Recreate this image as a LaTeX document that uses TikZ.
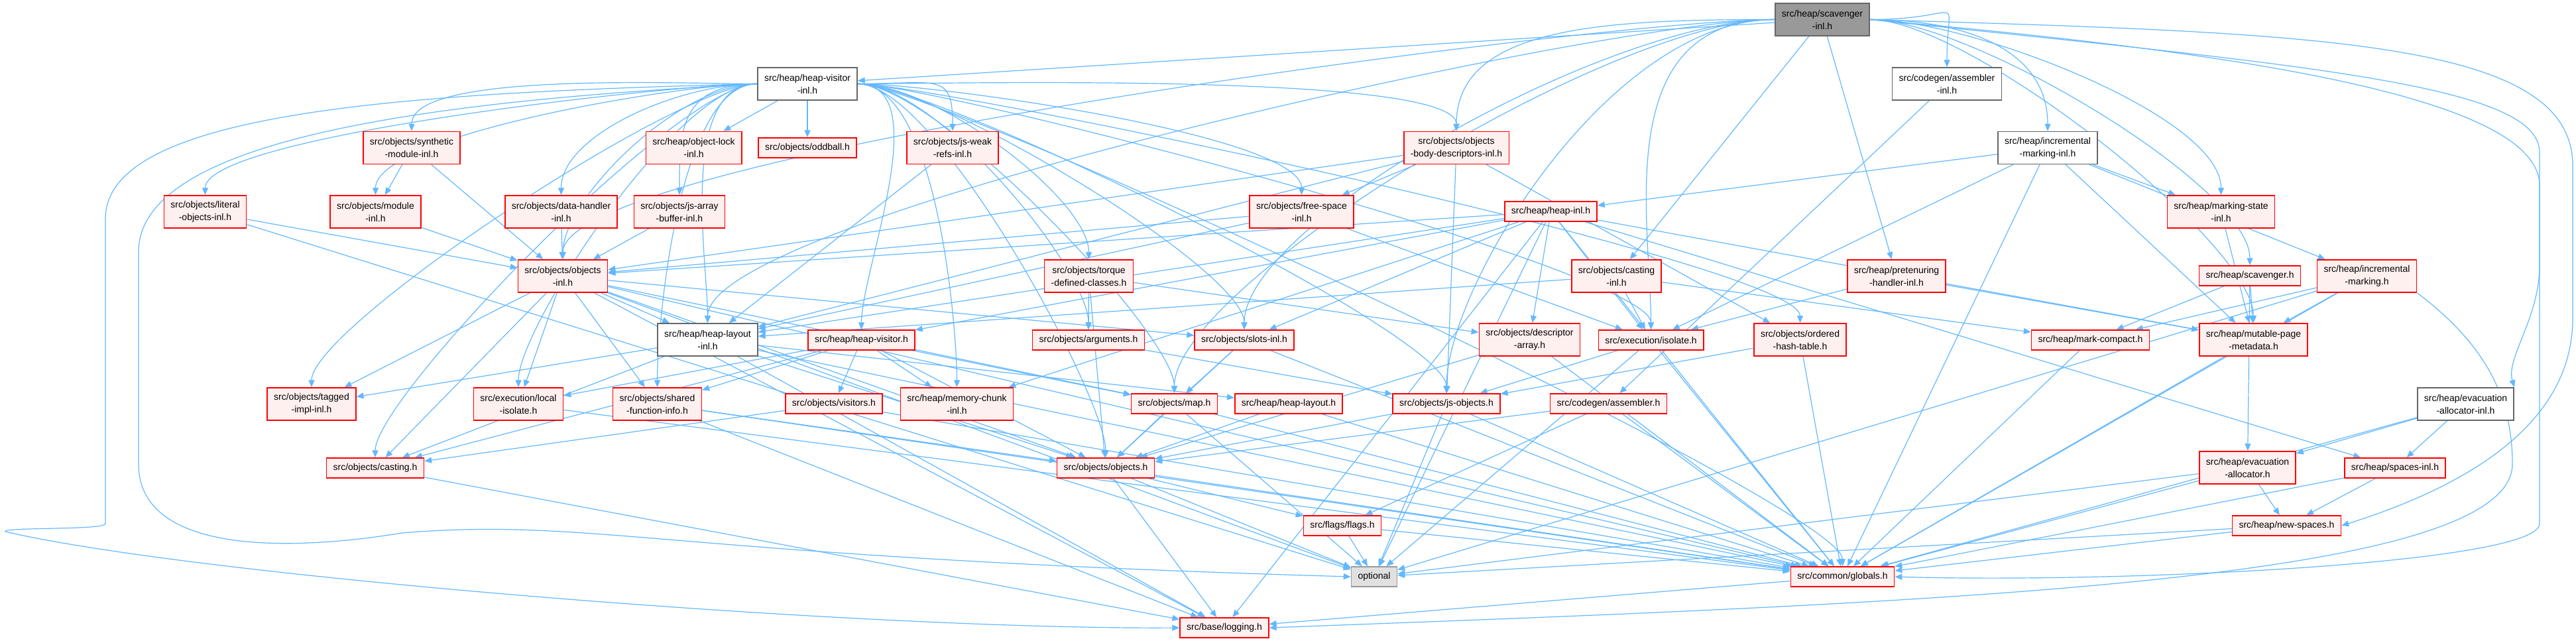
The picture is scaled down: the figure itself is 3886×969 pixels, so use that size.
\documentclass[tikz,border=0pt]{standalone}
\usepackage{fontspec}
\setmainfont{Liberation Sans}
\usetikzlibrary{arrows.meta}
\definecolor{edgeblue}{HTML}{63B8FF}
\definecolor{hdrred}{HTML}{FF0000}
\definecolor{hdrfill}{HTML}{FFF0F0}
\definecolor{plainline}{HTML}{666666}
\definecolor{rootfill}{HTML}{999999}
\definecolor{sysfill}{HTML}{E0E0E0}
\definecolor{sysline}{HTML}{999999}
\pgfdeclarelayer{wires}
\pgfsetlayers{wires,main}

\begin{document}
\begin{tikzpicture}[x=1pt, y=-1pt,
  font=\fontsize{14}{19}\selectfont,
  hdr/.style={draw=hdrred, fill=hdrfill, line width=1.5pt, align=center,
              inner xsep=10pt, inner ysep=2pt, minimum height=30pt},
  two/.style={minimum height=49pt},
  plainhdr/.style={hdr, draw=plainline, fill=white},
  roothdr/.style={hdr, draw=plainline, fill=rootfill},
  syshdr/.style={hdr, draw=sysline, fill=sysfill},
  inc/.style={-{Triangle[length=11pt, width=9pt]}, color=edgeblue, line width=1.2pt}
]
\useasboundingbox (0,0) rectangle (3886,969);

% top
\node[roothdr, two] (scavinl) at (2749,29.5) {src/heap/scavenger\\-inl.h};
\node[plainhdr, two] (hvinl) at (1218,126.5) {src/heap/heap-visitor\\-inl.h};
\node[plainhdr, two] (asminl) at (2937,126.5) {src/codegen/assembler\\-inl.h};

% includes of heap-visitor-inl.h
\node[hdr, two] (synth) at (621,223) {src/objects/synthetic\\-module-inl.h};
\node[hdr, two] (objlock) at (1046.5,223) {src/heap/object-lock\\-inl.h};
\node[hdr] (oddball) at (1218,223) {src/objects/oddball.h};
\node[hdr, two] (jsweak) at (1437,223) {src/objects/js-weak\\-refs-inl.h};
\node[hdr, two] (bodydesc) at (2197,223) {src/objects/objects\\-body-descriptors-inl.h};
\node[plainhdr, two] (iminl) at (3089,223) {src/heap/incremental\\-marking-inl.h};

\node[hdr, two] (literal) at (309.5,319.5) {src/objects/literal\\-objects-inl.h};
\node[hdr, two] (module) at (566.5,319.5) {src/objects/module\\-inl.h};
\node[hdr, two] (datah) at (846.5,319.5) {src/objects/data-handler\\-inl.h};
\node[hdr, two] (jsab) at (1025,319.5) {src/objects/js-array\\-buffer-inl.h};
\node[hdr, two] (freesp) at (1963.5,319.5) {src/objects/free-space\\-inl.h};
\node[hdr] (heapinl) at (2339.5,319) {src/heap/heap-inl.h};
\node[hdr, two] (msinl) at (3350.5,319.5) {src/heap/marking-state\\-inl.h};

\node[hdr, two] (objinl) at (849,416.5) {src/objects/objects\\-inl.h};
\node[hdr, two] (torque) at (1642.5,416.5) {src/objects/torque\\-defined-classes.h};
\node[hdr, two] (castinl) at (2438.5,416.5) {src/objects/casting\\-inl.h};
\node[hdr, two] (pret) at (2861,416.5) {src/heap/pretenuring\\-handler-inl.h};
\node[hdr] (scav) at (3394,416) {src/heap/scavenger.h};
\node[hdr, two] (incmark) at (3570.5,416.5) {src/heap/incremental\\-marking.h};

\node[plainhdr, two] (hlinl) at (1067.5,512.5) {src/heap/heap-layout\\-inl.h};
\node[hdr] (hvis) at (1299.5,513) {src/heap/heap-visitor.h};
\node[hdr] (args) at (1642,513) {src/objects/arguments.h};
\node[hdr] (slots) at (1877,513) {src/objects/slots-inl.h};
\node[hdr, two] (descarr) at (2307.5,512.5) {src/objects/descriptor\\-array.h};
\node[hdr] (isolate) at (2490.5,513) {src/execution/isolate.h};
\node[hdr, two] (ohash) at (2715.5,512.5) {src/objects/ordered\\-hash-table.h};
\node[hdr] (mcomp) at (3153.5,513) {src/heap/mark-compact.h};
\node[hdr, two] (mpm) at (3399.5,512.5) {src/heap/mutable-page\\-metadata.h};

\node[hdr, two] (tagged) at (470,609.5) {src/objects/tagged\\-impl-inl.h};
\node[hdr, two] (lociso) at (782,609.5) {src/execution/local\\-isolate.h};
\node[hdr, two] (sfi) at (991.5,609.5) {src/objects/shared\\-function-info.h};
\node[hdr] (visitors) at (1258,609) {src/objects/visitors.h};
\node[hdr, two] (mchunk) at (1443.5,609.5) {src/heap/memory-chunk\\-inl.h};
\node[hdr] (map) at (1771.5,609) {src/objects/map.h};
\node[hdr] (hlayout) at (1944,609) {src/heap/heap-layout.h};
\node[hdr] (jsobj) at (2182,609) {src/objects/js-objects.h};
\node[hdr] (asm) at (2426.5,609) {src/codegen/assembler.h};
\node[plainhdr, two] (evainl) at (3719.5,609.5) {src/heap/evacuation\\-allocator-inl.h};

\node[hdr] (casting) at (566,706) {src/objects/casting.h};
\node[hdr] (objects) at (1668,706) {src/objects/objects.h};
\node[hdr, two] (evalloc) at (3390.5,705.5) {src/heap/evacuation\\-allocator.h};
\node[hdr] (spinl) at (3613,706) {src/heap/spaces-inl.h};

\node[hdr] (flags) at (2025,793) {src/flags/flags.h};
\node[hdr] (newsp) at (3449.5,793) {src/heap/new-spaces.h};
\node[syshdr] (optional) at (2073,870) {optional};
\node[hdr] (globals) at (2779.5,870) {src/common/globals.h};
\node[hdr] (logging) at (1847,947) {src/base/logging.h};

\begin{pgfonlayer}{wires}
% scavenger-inl.h
\draw[inc] (scavinl) -- (hvinl);
\foreach \tgt in {bodydesc,jsobj,hlinl,objinl,slots,map,isolate}
  \draw[inc] (scavinl.west) .. controls +(-250,0) and +(0,-160) .. (\tgt.north);
\foreach \tgt in {asminl,iminl,msinl,scav,mpm}
  \draw[inc] (scavinl.east) .. controls +(150,0) and +(0,-120) .. (\tgt.north);
\foreach \tgt in {castinl,pret} \draw[inc] (scavinl) -- (\tgt);
% heap-visitor-inl.h
\foreach \tgt in {synth,literal,module,datah,jsab,objinl,tagged,casting,lociso,sfi,hlinl}
  \draw[inc] (hvinl.west) .. controls +(-120,0) and +(0,-90) .. (\tgt.north);
\foreach \tgt in {jsweak,bodydesc,freesp,torque,args,slots,ohash,map,jsobj,objects,isolate,globals,mchunk,hvis}
  \draw[inc] (hvinl.east) .. controls +(120,0) and +(0,-90) .. (\tgt.north);
\foreach \tgt in {objlock,oddball} \draw[inc] (hvinl) -- (\tgt);
% the rest
\draw[inc] (asminl) -- (asm);
\foreach \tgt in {module,objinl} \draw[inc] (synth) -- (\tgt);
\draw[inc] (jsweak) -- (hlinl);
\foreach \tgt in {objinl,optional} \draw[inc] (literal) -- (\tgt);
\foreach \src in {module,datah,jsab} \draw[inc] (\src) -- (objinl);
\foreach \tgt in {objinl,isolate,hlinl} \draw[inc] (freesp) -- (\tgt);
\foreach \tgt in {freesp,objinl,jsobj,ohash,hlinl} \draw[inc] (bodydesc) -- (\tgt);
\foreach \tgt in {objinl,hlinl,hvis,mchunk,slots,isolate,mpm,spinl,optional,globals,logging,descarr}
  \draw[inc] (heapinl) -- (\tgt);
\foreach \tgt in {heapinl,msinl,incmark,mpm,isolate,globals} \draw[inc] (iminl) -- (\tgt);
\draw[inc] (msinl) -- (mpm);
\foreach \tgt in {tagged,casting,hlinl,sfi,objects,slots,map,lociso,globals,optional,logging}
  \draw[inc] (objinl) -- (\tgt);
\foreach \tgt in {args,objects,descarr} \draw[inc] (torque) -- (\tgt);
\foreach \tgt in {isolate,hlinl,mcomp} \draw[inc] (castinl) -- (\tgt);
\foreach \tgt in {isolate,mpm} \draw[inc] (pret) -- (\tgt);
\foreach \tgt in {mpm,evalloc,mcomp} \draw[inc] (scav) -- (\tgt);
\foreach \tgt in {mcomp,mpm,globals,optional} \draw[inc] (incmark) -- (\tgt);
\foreach \tgt in {tagged,objects,hlayout,globals,logging,casting} \draw[inc] (hlinl) -- (\tgt);
\foreach \tgt in {sfi,visitors,map,objects,casting,lociso,mchunk} \draw[inc] (hvis) -- (\tgt);
\draw[inc] (args) -- (jsobj);
\foreach \tgt in {objects,map,globals} \draw[inc] (slots) -- (\tgt);
\foreach \tgt in {objects,globals} \draw[inc] (descarr) -- (\tgt);
\foreach \tgt in {jsobj,optional,globals} \draw[inc] (isolate) -- (\tgt);
\foreach \tgt in {jsobj,globals} \draw[inc] (ohash) -- (\tgt);
\draw[inc] (mcomp) -- (globals);
\draw[inc] (mpm) -- (globals);
\draw[inc] (lociso) -- (globals);
\foreach \tgt in {objects,logging,globals} \draw[inc] (sfi) -- (\tgt);
\foreach \tgt in {casting,globals} \draw[inc] (visitors) -- (\tgt);
\foreach \tgt in {objects,optional,globals} \draw[inc] (map) -- (\tgt);
\foreach \tgt in {objects,globals} \draw[inc] (hlayout) -- (\tgt);
\foreach \tgt in {objects,optional,globals} \draw[inc] (jsobj) -- (\tgt);
\foreach \tgt in {flags,objects,globals} \draw[inc] (asm) -- (\tgt);
\foreach \tgt in {evalloc,spinl,globals} \draw[inc] (evainl) -- (\tgt);
\draw[inc] (casting) -- (logging);
\foreach \tgt in {logging,flags,globals,optional} \draw[inc] (objects) -- (\tgt);
\foreach \tgt in {newsp,globals,optional} \draw[inc] (evalloc) -- (\tgt);
\foreach \tgt in {newsp,globals} \draw[inc] (spinl) -- (\tgt);
\foreach \tgt in {optional,globals} \draw[inc] (flags) -- (\tgt);
\foreach \tgt in {globals,optional} \draw[inc] (newsp) -- (\tgt);
\draw[inc] (globals) -- (logging);
% long routes round the sides
\draw[inc] (hvinl.west) .. controls (600,140) and (159,170) .. (159,330) -- (159,790)
  .. controls (159,800) and (0,795) .. (8,802) .. controls (300,870) and (1300,950) .. (logging.west);
\draw[inc] (hvinl.west) .. controls (700,150) and (209,200) .. (209,380) -- (209,700)
  .. controls (209,840) and (450,830) .. (606,804) .. controls (900,780) and (1000,840) .. (optional.west);
\draw[inc] (scavinl.east) .. controls (3500,50) and (3881,60) .. (3881,250) -- (3881,480)
  .. controls (3881,650) and (3700,740) .. (newsp.east);
\draw[inc] (scavinl.east) .. controls (3400,80) and (3831,150) .. (3831,280) -- (3831,400)
  .. controls (3831,480) and (3780,540) .. (evainl.north east);
\draw[inc] (scavinl.east) .. controls (3500,100) and (3831,130) .. (3831,230) -- (3831,790)
  .. controls (3831,850) and (3200,880) .. (globals.east);
\draw[inc] (incmark.south east) .. controls (3750,520) and (3790,600) .. (3790,700)
  .. controls (3790,880) and (2900,910) .. (logging.east);
\end{pgfonlayer}
\end{tikzpicture}
\end{document}
